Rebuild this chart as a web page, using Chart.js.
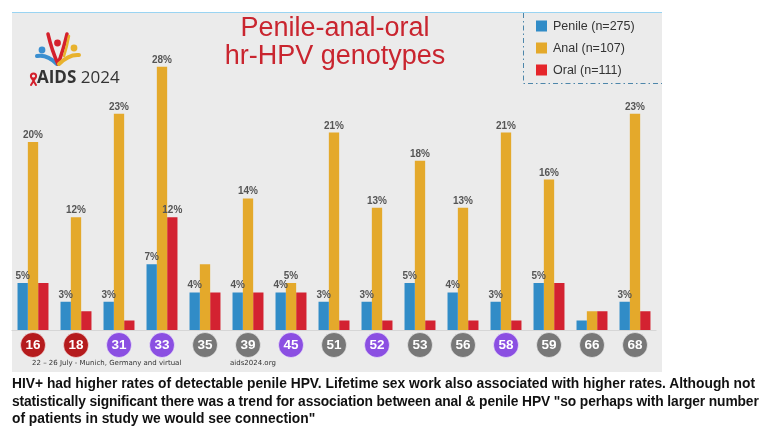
<!DOCTYPE html>
<html><head><meta charset="utf-8">
<script src="https://cdn.jsdelivr.net/npm/chart.js@4.4.1/dist/chart.umd.min.js"></script>
<style>
html,body{margin:0;padding:0;background:#fff;}
#wrap{position:relative;width:770px;height:446px;overflow:hidden;}
#c{position:absolute;left:0;top:0;}
.t{position:absolute;white-space:nowrap;}
#title{left:135px;width:400px;top:13px;text-align:center;color:#c9252f;font:27px 'Liberation Sans',Arial,sans-serif;line-height:28px;}
#logo{left:37px;top:67px;font:17px 'Open Sans',sans-serif;color:#333;line-height:20px;}
#logo b{font-weight:700;}
.foot{top:360px;font:7px 'DejaVu Sans',Verdana,sans-serif;line-height:7px;color:#333;}
#caption{left:12px;top:375px;font:bold 13.8px 'Liberation Sans',Arial,sans-serif;line-height:17.5px;color:#111;}
#caption .l2{letter-spacing:-0.11px;}
</style></head>
<body><div id="wrap">
<canvas id="c" width="770" height="446"></canvas>
<div class="t" id="title">Penile-anal-oral<br>hr-HPV genotypes</div>
<div class="t" id="logo"><b>AIDS</b> 2024</div>
<div class="t foot" style="left:32px">22 – 26 July - Munich, Germany and virtual</div>
<div class="t foot" style="left:230px">aids2024.org</div>
<div class="t" id="caption">HIV+ had higher rates of detectable penile HPV. Lifetime sex work also associated with higher rates. Although not<br><span class="l2">statistically significant there was a trend for association between anal &amp; penile HPV "so perhaps with larger number</span><br>of patients in study we would see connection"</div>
</div>
<script>
const categories = ['16','18','31','33','35','39','45','51','52','53','56','58','59','66','68'];
const penile = [5,3,3,7,4,4,4,3,3,5,4,3,5,1,3];
const anal   = [20,12,23,28,7,14,5,21,13,18,13,21,16,2,23];
const oral   = [5,2,1,12,4,4,4,1,1,1,1,1,5,2,2];
const penileLabels = ['5%','3%','3%','7%','4%','4%','4%','3%','3%','5%','4%','3%','5%','','3%'];
const analLabels   = ['20%','12%','23%','28%','','14%','5%','21%','13%','18%','13%','21%','16%','','23%'];
const oralLabels   = ['','','','12%','','','','','','','','','','',''];
const seriesNames  = ['Penile (n=275)','Anal (n=107)','Oral (n=111)'];
const group2v = ['16','18'];
const group9v = ['31','33','45','52','58'];

const COLORS = ['#318cc7','#e4a92b','#d32231'];
const LEGEND_COLORS = ['#318cc7','#e4a92b','#e5262b'];
const valueLabels = [penileLabels, analLabels, oralLabels];

const deco = {
  id:'deco',
  beforeDraw(chart){
    const c = chart.ctx;
    c.save();
    c.fillStyle='#ebebeb'; c.fillRect(12,12,650,360);
    c.fillStyle='#9ad4f2'; c.fillRect(12,12,650,1);
    // logo figures
    c.lineCap='round';
    c.fillStyle='#3a8fd0'; c.beginPath(); c.arc(42,50,3.4,0,Math.PI*2); c.fill();
    c.strokeStyle='#3a8fd0'; c.lineWidth=4; c.beginPath(); c.moveTo(37,56); c.quadraticCurveTo(47,54,57,64); c.stroke();
    c.strokeStyle='#d4202c'; c.lineWidth=3.5; c.beginPath(); c.moveTo(48,34); c.quadraticCurveTo(52,51,58,64); c.moveTo(67,34); c.quadraticCurveTo(63,51,58,64); c.stroke();
    c.fillStyle='#d4202c'; c.beginPath(); c.arc(57.5,43,3.4,0,Math.PI*2); c.fill();
    c.fillStyle='#e8b22d'; c.beginPath(); c.arc(74,48,3.4,0,Math.PI*2); c.fill();
    c.strokeStyle='#e8b22d'; c.lineWidth=4; c.beginPath(); c.moveTo(79,55); c.quadraticCurveTo(69,54,59,64); c.stroke();
    c.lineWidth=2.5; c.beginPath(); c.moveTo(69,36); c.quadraticCurveTo(67,47,64,56); c.stroke();
    // ribbon
    c.strokeStyle='#d4202c'; c.lineWidth=2;
    c.beginPath(); c.arc(33.5,76,2.6,0,Math.PI*2); c.stroke();
    c.beginPath(); c.moveTo(32,78.5); c.lineTo(36,85); c.moveTo(35,78.5); c.lineTo(31,85); c.stroke();
    c.restore();
  },
  beforeDatasetsDraw(chart){
    const c=chart.ctx, a=chart.chartArea;
    c.save(); c.strokeStyle='#d6d6d6'; c.lineWidth=1;
    c.beginPath(); c.moveTo(a.left,a.bottom+0.5); c.lineTo(a.right,a.bottom+0.5); c.stroke();
    c.restore();
  },
  afterDatasetsDraw(chart){
    const c=chart.ctx;
    c.save();
    c.font="bold 10px 'Liberation Sans', Arial, sans-serif";
    c.fillStyle='#555'; c.textAlign='center'; c.textBaseline='alphabetic';
    chart.data.datasets.forEach((ds,d)=>{
      const meta=chart.getDatasetMeta(d);
      meta.data.forEach((bar,i)=>{
        const t=valueLabels[d][i];
        if(t) c.fillText(t,bar.x,bar.y-4);
      });
    });
    // category circles
    const xs=chart.scales.x;
    categories.forEach((cat,i)=>{
      const x=xs.getPixelForValue(i), y=345;
      c.beginPath(); c.arc(x,y,12.5,0,Math.PI*2);
      c.fillStyle = group2v.includes(cat)?'#b51b1d':(group9v.includes(cat)?'#8b4fe2':'#787878');
      c.fill();
      c.strokeStyle='rgba(255,255,255,0.55)'; c.lineWidth=1; c.stroke();
      c.fillStyle='#fff'; c.font="bold 13.5px 'Liberation Sans', Arial, sans-serif";
      c.textBaseline='middle'; c.fillText(cat,x,y+0.5);
    });
    // legend
    c.strokeStyle='#4d86aa'; c.lineWidth=1; c.setLineDash([5,3,1.5,3]);
    c.beginPath(); c.moveTo(523.5,13); c.lineTo(523.5,83.5); c.lineTo(662,83.5); c.stroke();
    c.setLineDash([]);
    c.font="12.5px 'Liberation Sans', Arial, sans-serif"; c.textAlign='left'; c.textBaseline='middle';
    chart.data.datasets.forEach((ds,d)=>{
      const cy=26+d*22;
      c.fillStyle=LEGEND_COLORS[d]; c.fillRect(536,cy-5.5,11,11);
      c.fillStyle='#333'; c.fillText(ds.label,553,cy+0.5);
    });
    c.restore();
  }
};

new Chart(document.getElementById('c'),{
  type:'bar',
  data:{
    labels:categories,
    datasets:[
      {label:seriesNames[0],data:penile,backgroundColor:COLORS[0]},
      {label:seriesNames[1],data:anal,backgroundColor:COLORS[1]},
      {label:seriesNames[2],data:oral,backgroundColor:COLORS[2]}
    ]
  },
  options:{
    responsive:false,animation:false,
    layout:{padding:{left:11.5,right:113.5,top:48,bottom:116}},
    datasets:{bar:{categoryPercentage:0.72,barPercentage:1.0}},
    scales:{
      x:{display:false},
      y:{display:false,min:0,max:30}
    },
    plugins:{legend:{display:false},tooltip:{enabled:false},title:{display:false}}
  },
  plugins:[deco]
});
</script>
</body></html>
